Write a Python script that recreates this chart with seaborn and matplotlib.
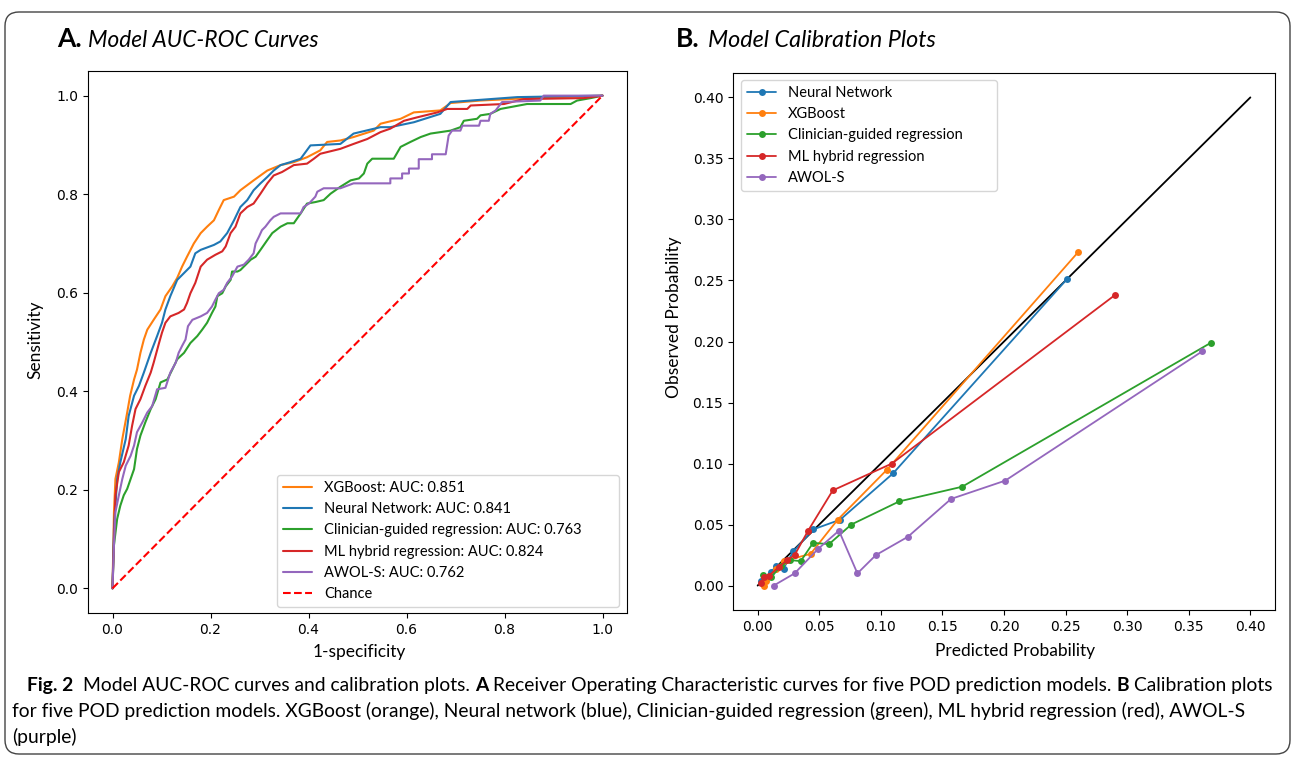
"""
Fig. 2 - ROC curves and calibration plots for five POD prediction models
"""

import numpy as np
import matplotlib
matplotlib.use('Agg')
import matplotlib.pyplot as plt
import seaborn as sns
from matplotlib.patches import FancyBboxPatch
from matplotlib.transforms import IdentityTransform

sns.set_style('ticks', rc={'axes.edgecolor': 'black', 'axes.linewidth': 0.8,
                           'xtick.color': 'black', 'ytick.color': 'black',
                           'xtick.major.width': 0.8, 'ytick.major.width': 0.8,
                           'xtick.major.size': 3.5, 'ytick.major.size': 3.5,
                           'text.color': 'black', 'axes.labelcolor': 'black'})
plt.rcParams['font.family'] = ['DejaVu Sans']
plt.rcParams['font.size'] = 10

# ---- ROC curves: (1-specificity, sensitivity)
xgb_roc = [(0, 0), (0.003, 0.155), (0.006, 0.222), (0.013, 0.256), (0.020, 0.303),
           (0.030, 0.357), (0.036, 0.391), (0.044, 0.424), (0.050, 0.444), (0.057, 0.478),
           (0.064, 0.505), (0.071, 0.525), (0.084, 0.545), (0.098, 0.566), (0.108, 0.593),
           (0.122, 0.613), (0.132, 0.630), (0.142, 0.653), (0.152, 0.673), (0.166, 0.700),
           (0.180, 0.721), (0.193, 0.734), (0.207, 0.747), (0.217, 0.768), (0.227, 0.788),
           (0.248, 0.795), (0.261, 0.808), (0.288, 0.828), (0.316, 0.848), (0.343, 0.859),
           (0.370, 0.865), (0.397, 0.875), (0.424, 0.889), (0.438, 0.906), (0.465, 0.909),
           (0.492, 0.916), (0.533, 0.929), (0.547, 0.943), (0.588, 0.953), (0.615, 0.966),
           (0.669, 0.970), (0.690, 0.985), (0.750, 0.990), (0.850, 0.995), (1.0, 1.0)]

nn_roc = [(0, 0), (0.003, 0.121), (0.0095, 0.222), (0.016, 0.256), (0.027, 0.303),
          (0.033, 0.350), (0.044, 0.391), (0.054, 0.411), (0.064, 0.438), (0.078, 0.478),
          (0.091, 0.512), (0.101, 0.539), (0.108, 0.566), (0.118, 0.593), (0.132, 0.626),
          (0.146, 0.640), (0.159, 0.653), (0.169, 0.680), (0.180, 0.687), (0.207, 0.697),
          (0.220, 0.704), (0.234, 0.721), (0.248, 0.747), (0.261, 0.774), (0.275, 0.788),
          (0.288, 0.808), (0.302, 0.822), (0.316, 0.835), (0.329, 0.848), (0.343, 0.859),
          (0.363, 0.865), (0.384, 0.872), (0.404, 0.899), (0.465, 0.902), (0.492, 0.923),
          (0.547, 0.936), (0.567, 0.936), (0.615, 0.946), (0.669, 0.963), (0.690, 0.987),
          (0.826, 0.997), (1.0, 1.0)]

clin_roc = [(0, 0), (0.003, 0.088), (0.0095, 0.141), (0.016, 0.168), (0.023, 0.189),
            (0.030, 0.202), (0.037, 0.222), (0.044, 0.242), (0.050, 0.283), (0.057, 0.310),
            (0.067, 0.337), (0.078, 0.364), (0.088, 0.384), (0.098, 0.418), (0.112, 0.424),
            (0.122, 0.444), (0.132, 0.465), (0.146, 0.478), (0.159, 0.498), (0.173, 0.512),
            (0.183, 0.525), (0.193, 0.539), (0.203, 0.559), (0.210, 0.572), (0.214, 0.593),
            (0.224, 0.599), (0.231, 0.613), (0.241, 0.626), (0.244, 0.643), (0.255, 0.643),
            (0.261, 0.646), (0.271, 0.656), (0.282, 0.667), (0.292, 0.673), (0.302, 0.687),
            (0.316, 0.707), (0.326, 0.721), (0.343, 0.734), (0.357, 0.741), (0.370, 0.741),
            (0.384, 0.761), (0.397, 0.781), (0.414, 0.784), (0.431, 0.788), (0.445, 0.801),
            (0.465, 0.815), (0.486, 0.828), (0.503, 0.832), (0.513, 0.842), (0.520, 0.862),
            (0.530, 0.872), (0.574, 0.872), (0.588, 0.896), (0.608, 0.906), (0.629, 0.916),
            (0.649, 0.923), (0.690, 0.929), (0.710, 0.936), (0.717, 0.949), (0.744, 0.953),
            (0.751, 0.960), (0.771, 0.963), (0.792, 0.973), (0.846, 0.983), (0.935, 0.983),
            (0.948, 0.990), (0.976, 0.995), (1.0, 1.0)]

ml_roc = [(0, 0), (0.003, 0.101), (0.006, 0.189), (0.013, 0.236), (0.023, 0.256),
          (0.033, 0.290), (0.040, 0.330), (0.047, 0.364), (0.057, 0.384), (0.067, 0.411),
          (0.078, 0.438), (0.084, 0.458), (0.095, 0.498), (0.101, 0.519), (0.108, 0.539),
          (0.118, 0.552), (0.135, 0.559), (0.146, 0.566), (0.152, 0.579), (0.159, 0.599),
          (0.169, 0.620), (0.180, 0.653), (0.193, 0.667), (0.210, 0.677), (0.224, 0.684),
          (0.231, 0.694), (0.241, 0.721), (0.251, 0.734), (0.261, 0.761), (0.275, 0.774),
          (0.288, 0.781), (0.302, 0.801), (0.316, 0.822), (0.329, 0.838), (0.346, 0.845),
          (0.370, 0.859), (0.397, 0.862), (0.411, 0.872), (0.424, 0.882), (0.465, 0.892),
          (0.492, 0.902), (0.520, 0.912), (0.547, 0.926), (0.567, 0.933), (0.595, 0.949),
          (0.622, 0.956), (0.663, 0.966), (0.683, 0.973), (0.724, 0.973), (0.731, 0.980),
          (0.799, 0.983), (0.839, 0.993), (0.962, 0.995), (1.0, 1.0)]

awol_roc = [(0, 0), (0.003, 0.088), (0.006, 0.155), (0.013, 0.189), (0.020, 0.222),
            (0.027, 0.249), (0.037, 0.269), (0.044, 0.290), (0.050, 0.317), (0.061, 0.337),
            (0.071, 0.357), (0.081, 0.370), (0.091, 0.404), (0.108, 0.407), (0.118, 0.438),
            (0.129, 0.458), (0.135, 0.478), (0.142, 0.492), (0.149, 0.505), (0.154, 0.532),
            (0.163, 0.545), (0.180, 0.552), (0.193, 0.559), (0.203, 0.572), (0.210, 0.586),
            (0.217, 0.599), (0.227, 0.606), (0.234, 0.620), (0.244, 0.633), (0.255, 0.653),
            (0.268, 0.657), (0.278, 0.667), (0.288, 0.680), (0.292, 0.700), (0.299, 0.714),
            (0.305, 0.727), (0.312, 0.734), (0.322, 0.747), (0.329, 0.754), (0.343, 0.761),
            (0.384, 0.761), (0.390, 0.774), (0.401, 0.781), (0.414, 0.795), (0.418, 0.805),
            (0.431, 0.812), (0.465, 0.812), (0.492, 0.822), (0.567, 0.822), (0.567, 0.832),
            (0.591, 0.832), (0.591, 0.842), (0.605, 0.842), (0.605, 0.852), (0.625, 0.852),
            (0.625, 0.871), (0.652, 0.871), (0.652, 0.881), (0.680, 0.881), (0.686, 0.919),
            (0.693, 0.929), (0.710, 0.929), (0.714, 0.939), (0.748, 0.939), (0.751, 0.949),
            (0.768, 0.949), (0.771, 0.963), (0.782, 0.970), (0.795, 0.987), (0.873, 0.990),
            (0.880, 1.0), (1.0, 1.0)]

chance = [(0, 0), (1, 1)]

roc_names = ['XGBoost', 'Neural Network', 'Clinician-guided regression',
             'ML hybrid regression', 'AWOL-S']
roc_auc = [0.851, 0.841, 0.763, 0.824, 0.762]

# ---- calibration points: predicted vs observed probability
nn_pred = [0.003, 0.011, 0.015, 0.021, 0.029, 0.045, 0.067, 0.110, 0.251]
nn_obs = [0.004, 0.011, 0.016, 0.014, 0.028, 0.046, 0.054, 0.092, 0.251]
xgb_pred = [0.005, 0.007, 0.015, 0.021, 0.043, 0.065, 0.105, 0.260]
xgb_obs = [0.000, 0.004, 0.014, 0.020, 0.026, 0.054, 0.095, 0.273]
clin_pred = [0.004, 0.011, 0.019, 0.026, 0.035, 0.045, 0.058, 0.076, 0.115, 0.166, 0.368]
clin_obs = [0.009, 0.007, 0.016, 0.021, 0.020, 0.035, 0.034, 0.050, 0.069, 0.081, 0.199]
ml_pred = [0.003, 0.005, 0.009, 0.017, 0.024, 0.030, 0.041, 0.061, 0.109, 0.290]
ml_obs = [0.002, 0.007, 0.008, 0.015, 0.021, 0.025, 0.045, 0.078, 0.100, 0.238]
awol_pred = [0.013, 0.030, 0.049, 0.066, 0.081, 0.096, 0.122, 0.157, 0.201, 0.361]
awol_obs = [0.000, 0.010, 0.030, 0.045, 0.010, 0.025, 0.040, 0.071, 0.086, 0.192]
perfect = [0.0, 0.4]

cal_ticks = [0.00, 0.05, 0.10, 0.15, 0.20, 0.25, 0.30, 0.35, 0.40]
roc_ticks = [0.0, 0.2, 0.4, 0.6, 0.8, 1.0]

colors = {'XGBoost': '#ff7f0e', 'Neural Network': '#1f77b4',
          'Clinician-guided regression': '#2ca02c', 'ML hybrid regression': '#d62728',
          'AWOL-S': '#9467bd'}

txt_font = ['Lato', 'DejaVu Sans']

W, H = 1293, 757
fig = plt.figure(figsize=(W / 100, H / 100), dpi=100)
ax1 = fig.add_axes([88 / W, 1 - 613 / H, (627 - 88) / W, (613 - 71) / H])
ax2 = fig.add_axes([733 / W, 1 - 610 / H, (1275 - 733) / W, (610 - 73) / H])

# ---- panel A
for name, auc, pts in zip(roc_names, roc_auc, [xgb_roc, nn_roc, clin_roc, ml_roc, awol_roc]):
    fx, ty = zip(*pts)
    sns.lineplot(x=list(fx), y=list(ty), ax=ax1, estimator=None, sort=False,
                 color=colors[name], linewidth=1.5, label=f'{name}: AUC: {auc}')
cx, cy = zip(*chance)
sns.lineplot(x=list(cx), y=list(cy), ax=ax1, estimator=None, sort=False,
             color='red', linestyle='--', linewidth=1.5, label='Chance')
ax1.set_xticks(roc_ticks)
ax1.set_yticks(roc_ticks)
ax1.set_xlabel('1-specificity', family=txt_font, fontsize=12.5)
ax1.set_ylabel('Sensitivity', family=txt_font, fontsize=12.5)
ax1.xaxis.set_label_coords(0.504, -0.058)
ax1.yaxis.set_label_coords(-0.082, 0.504)
ax1.legend(loc='lower left', mode='expand', borderaxespad=0,
           bbox_to_anchor=(0.351, 0.011, 0.634, 0.25),
           prop={'family': txt_font, 'size': 10.5})

# ---- panel B
sns.lineplot(x=perfect, y=perfect, ax=ax2, estimator=None, color='black', linewidth=1.3)
cal_sets = [('Neural Network', nn_pred, nn_obs), ('XGBoost', xgb_pred, xgb_obs),
            ('Clinician-guided regression', clin_pred, clin_obs),
            ('ML hybrid regression', ml_pred, ml_obs), ('AWOL-S', awol_pred, awol_obs)]
for name, px, oy in cal_sets:
    sns.lineplot(x=px, y=oy, ax=ax2, estimator=None, sort=False, color=colors[name],
                 linewidth=1.3, marker='o', markersize=5, markeredgewidth=0,
                 markeredgecolor=colors[name], label=name)
ax2.set_xticks(cal_ticks)
ax2.set_yticks(cal_ticks)
ax2.set_xticklabels([f'{t:.2f}' for t in cal_ticks])
ax2.set_yticklabels([f'{t:.2f}' for t in cal_ticks])
ax2.set_xlabel('Predicted Probability', family=txt_font, fontsize=12.5)
ax2.set_ylabel('Observed Probability', family=txt_font, fontsize=12.5)
ax2.xaxis.set_label_coords(0.520, -0.062)
ax2.yaxis.set_label_coords(-0.095, 0.545)
ax2.legend(loc='upper left', mode='expand', borderaxespad=0,
           bbox_to_anchor=(0.015, 0.5, 0.472, 0.487),
           prop={'family': txt_font, 'size': 10.5})

# ---- panel titles
def fy(y_px):
    return 1 - y_px / H

fig.text(57 / W, fy(47), 'A.', family=txt_font, fontsize=19, fontweight='bold', va='baseline')
fig.text(88 / W, fy(47), 'Model AUC-ROC Curves', family=txt_font, fontsize=16.3,
         style='italic', va='baseline')
fig.text(676 / W, fy(47), 'B.', family=txt_font, fontsize=19, fontweight='bold', va='baseline')
fig.text(708 / W, fy(47), 'Model Calibration Plots', family=txt_font, fontsize=16.8,
         style='italic', va='baseline')

# ---- caption, drawn run by run so bold pieces sit inline
renderer = fig.canvas.get_renderer()
cap_size = 13.9


def text_width(s, weight='normal'):
    t = fig.text(0, 0, s, family=txt_font, fontsize=cap_size, fontweight=weight)
    w = t.get_window_extent(renderer).width
    t.remove()
    return w


space_w = text_width('x x') - text_width('xx')


def put_runs(x_px, y_px, runs):
    x = x_px
    for txt, bold, gap in runs:
        t = fig.text(x / W, fy(y_px), txt, family=txt_font, fontsize=cap_size,
                     fontweight='bold' if bold else 'normal', va='baseline')
        x += t.get_window_extent(renderer).width + gap * space_w


put_runs(27, 691, [('Fig. 2', True, 2),
                   ('Model AUC-ROC curves and calibration plots.', False, 1),
                   ('A', True, 1),
                   ('Receiver Operating Characteristic curves for five POD prediction models.', False, 1),
                   ('B', True, 1),
                   ('Calibration plots', False, 0)])
put_runs(12, 717, [('for five POD prediction models. XGBoost (orange), Neural network (blue), '
                    'Clinician-guided regression (green), ML hybrid regression (red), AWOL-S',
                    False, 0)])
put_runs(12, 743, [('(purple)', False, 0)])

# ---- rounded frame around the figure
fig.add_artist(FancyBboxPatch((5, 3), 1285, 742, boxstyle='round,pad=0,rounding_size=14',
                              transform=IdentityTransform(), fill=False,
                              edgecolor='#444444', linewidth=1))

fig.savefig('out.png', dpi=100)
